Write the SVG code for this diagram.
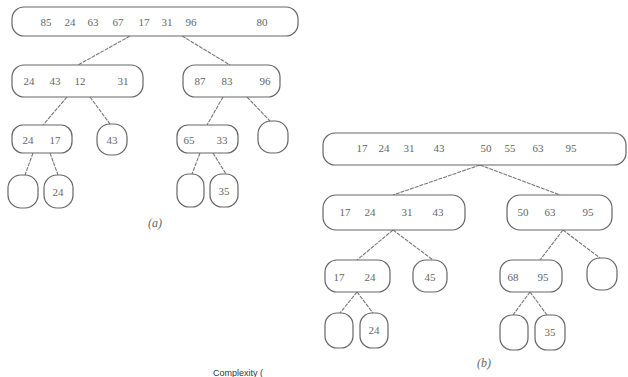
<svg xmlns="http://www.w3.org/2000/svg" width="628" height="377" viewBox="0 0 628 377">
<style>
.n{fill:#fff;stroke:#666;stroke-width:1.2}
.c{stroke:#777;stroke-width:1.1;fill:none;stroke-dasharray:4 1}
.t{font-family:"Liberation Serif","DejaVu Serif",serif;font-size:11px;fill:#666;text-anchor:middle}
.lab{font-family:"Liberation Serif","DejaVu Serif",serif;font-size:12px;font-style:italic;fill:#666;text-anchor:middle}
.cap{font-family:"Liberation Sans","DejaVu Sans",sans-serif;font-size:9px;fill:#333}
</style>
<rect width="628" height="377" fill="#fff"/>
<g id="connectors">
<line class="c" x1="130" y1="36" x2="78" y2="65"/>
<line class="c" x1="182" y1="36" x2="230" y2="65"/>
<line class="c" x1="67" y1="97" x2="43" y2="125"/>
<line class="c" x1="90" y1="97" x2="110" y2="124"/>
<line class="c" x1="223" y1="97" x2="207" y2="125"/>
<line class="c" x1="247" y1="97" x2="270" y2="121"/>
<line class="c" x1="33" y1="153" x2="25" y2="175"/>
<line class="c" x1="50" y1="153" x2="58" y2="175"/>
<line class="c" x1="200" y1="153" x2="192" y2="174"/>
<line class="c" x1="213" y1="153" x2="226" y2="174"/>
<line class="c" x1="480" y1="165" x2="393" y2="195"/>
<line class="c" x1="480" y1="165" x2="560" y2="195"/>
<line class="c" x1="393" y1="230" x2="357" y2="260"/>
<line class="c" x1="393" y1="230" x2="433" y2="260"/>
<line class="c" x1="563" y1="230" x2="540" y2="260"/>
<line class="c" x1="563" y1="230" x2="600" y2="258"/>
<line class="c" x1="357" y1="292" x2="340" y2="313"/>
<line class="c" x1="357" y1="292" x2="373" y2="313"/>
<line class="c" x1="530" y1="292" x2="513" y2="315"/>
<line class="c" x1="530" y1="292" x2="547" y2="315"/>
</g>
<g id="a-root"><rect class="n" x="12" y="7" width="286" height="29" rx="12"/>
<text class="t" y="26"><tspan x="46">85</tspan><tspan x="70">24</tspan><tspan x="93">63</tspan><tspan x="118">67</tspan><tspan x="144">17</tspan><tspan x="167">31</tspan><tspan x="191">96</tspan><tspan x="262">80</tspan></text></g>
<g id="a-l"><rect class="n" x="12" y="65" width="131" height="32" rx="12"/>
<text class="t" y="85"><tspan x="29">24</tspan><tspan x="55">43</tspan><tspan x="80">12</tspan><tspan x="123">31</tspan></text></g>
<g id="a-r"><rect class="n" x="183" y="65" width="97" height="32" rx="12"/>
<text class="t" y="85"><tspan x="200">87</tspan><tspan x="227">83</tspan><tspan x="265">96</tspan></text></g>
<g id="a-ll"><rect class="n" x="12" y="125" width="60" height="28" rx="11"/>
<text class="t" y="144"><tspan x="28">24</tspan><tspan x="55">17</tspan></text></g>
<g id="a-lr"><rect class="n" x="97" y="124" width="30" height="31" rx="13"/><text class="t" x="112" y="144">43</text></g>
<g id="a-rl"><rect class="n" x="177" y="125" width="61" height="28" rx="11"/>
<text class="t" y="144"><tspan x="189">65</tspan><tspan x="222">33</tspan></text></g>
<g id="a-rr"><rect class="n" x="258" y="121" width="30" height="32" rx="13"/></g>
<g id="a-lll"><rect class="n" x="8" y="175" width="30" height="33" rx="13"/></g>
<g id="a-llr"><rect class="n" x="44" y="175" width="29" height="33" rx="13"/><text class="t" x="58" y="196">24</text></g>
<g id="a-rll"><rect class="n" x="177" y="174" width="27" height="33" rx="12"/></g>
<g id="a-rlr"><rect class="n" x="210" y="174" width="28" height="33" rx="12"/><text class="t" x="224" y="195">35</text></g>
<text class="lab" x="155" y="227">(a)</text>
<g id="b-root"><rect class="n" x="323" y="133" width="303" height="32" rx="12"/>
<text class="t" y="152"><tspan x="362">17</tspan><tspan x="384">24</tspan><tspan x="409">31</tspan><tspan x="439">43</tspan><tspan x="486">50</tspan><tspan x="510">55</tspan><tspan x="538">63</tspan><tspan x="571">95</tspan></text></g>
<g id="b-l"><rect class="n" x="323" y="195" width="142" height="35" rx="13"/>
<text class="t" y="216"><tspan x="345">17</tspan><tspan x="370">24</tspan><tspan x="407">31</tspan><tspan x="438">43</tspan></text></g>
<g id="b-r"><rect class="n" x="507" y="195" width="105" height="35" rx="13"/>
<text class="t" y="216"><tspan x="523">50</tspan><tspan x="550">63</tspan><tspan x="588">95</tspan></text></g>
<g id="b-ll"><rect class="n" x="325" y="260" width="65" height="32" rx="12"/>
<text class="t" y="281"><tspan x="339">17</tspan><tspan x="370">24</tspan></text></g>
<g id="b-lr"><rect class="n" x="413" y="260" width="34" height="32" rx="13"/><text class="t" x="430" y="281">45</text></g>
<g id="b-rl"><rect class="n" x="500" y="260" width="62" height="32" rx="12"/>
<text class="t" y="281"><tspan x="513">68</tspan><tspan x="543">95</tspan></text></g>
<g id="b-rr"><rect class="n" x="587" y="258" width="30" height="32" rx="13"/></g>
<g id="b-lll"><rect class="n" x="325" y="313" width="28" height="35" rx="12"/></g>
<g id="b-llr"><rect class="n" x="360" y="313" width="28" height="35" rx="12"/><text class="t" x="374" y="334">24</text></g>
<g id="b-rll"><rect class="n" x="500" y="315" width="28" height="35" rx="12"/></g>
<g id="b-rlr"><rect class="n" x="535" y="315" width="30" height="35" rx="12"/><text class="t" x="550" y="336">35</text></g>
<text class="lab" x="484" y="367">(b)</text>
<text class="cap" x="213" y="376">Complexity (</text>
</svg>
